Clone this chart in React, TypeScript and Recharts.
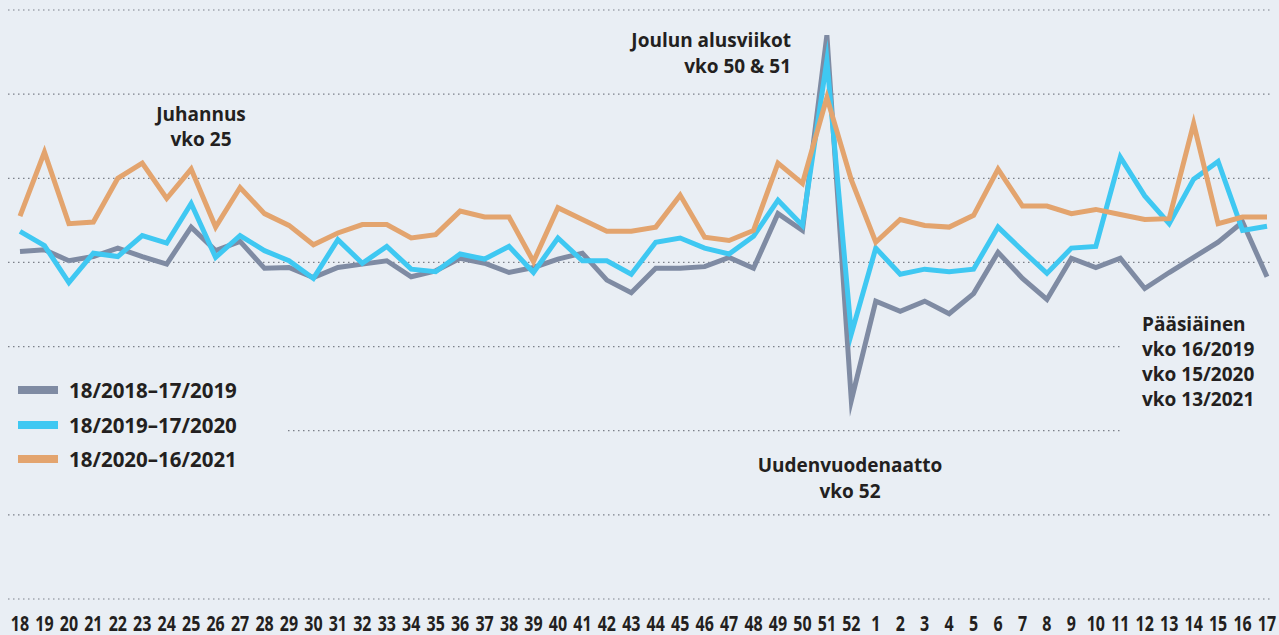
import { CartesianGrid, Legend, Line, LineChart, XAxis, YAxis } from "recharts";

// viikot 18/YYYY - 17/YYYY+1
const weeks = [
  "18", "19", "20", "21", "22", "23", "24", "25", "26", "27", "28", "29", "30",
  "31", "32", "33", "34", "35", "36", "37", "38", "39", "40", "41", "42", "43",
  "44", "45", "46", "47", "48", "49", "50", "51", "52", "1", "2", "3", "4", "5",
  "6", "7", "8", "9", "10", "11", "12", "13", "14", "15", "16", "17",
];

const y2018 = [
  413, 415, 402, 407, 417, 407, 398, 442, 414, 425, 393, 394, 382,
  394, 398, 402, 383, 390, 405, 399, 388, 394, 404, 411, 379, 364,
  393, 393, 395, 406, 393, 458, 438, 670, 236, 354, 342, 354, 339, 363,
  412, 381, 356, 405, 394, 405, 369, 388, 406, 424, 448, 383,
];

const y2019 = [
  437, 420, 376, 411, 407, 432, 423, 470, 406, 432, 414, 402, 381,
  427, 399, 419, 392, 389, 410, 404, 419, 388, 429, 402, 402, 386,
  424, 429, 417, 410, 431, 474, 444, 640, 315, 417, 386, 392, 389, 392,
  442, 414, 387, 417, 419, 525, 479, 446, 499, 520, 438, 443,
];

const y2020 = [
  455, 531, 446, 448, 500, 518, 476, 511, 442, 489, 458, 444, 421,
  435, 445, 445, 429, 433, 461, 454, 454, 401, 465, 451, 437, 437,
  442, 480, 430, 426, 438, 518, 494, 596, 498, 424, 451, 444, 442, 456,
  511, 467, 467, 458, 463, 457, 451, 452, 565, 446, 454, 454,
];

const yTicks = [0, 100, 200, 300, 400, 500, 600, 700];

const data = weeks.map((w, i) => ({
  week: w,
  a: y2018[i],
  b: y2019[i],
  c: y2020[i],
}));

const BG = "#e9eef4";
const TEXT = "#231f20";
const FONT = "'Open Sans', 'Noto Sans', sans-serif";

const series = [
  { key: "a", name: "18/2018–17/2019", color: "#7f8ba3" },
  { key: "b", name: "18/2019–17/2020", color: "#3fc8f2" },
  { key: "c", name: "18/2020–16/2021", color: "#e3a46e" },
];

// kapea lihavoitu fontti: skaalataan vaakasuunnassa
function WeekTick(props: any) {
  const { x, y, payload } = props;
  return (
    <g transform={`translate(${x},${y})`}>
      <text
        transform="scale(0.78,1)"
        textAnchor="middle"
        dy="0.71em"
        fill={TEXT}
        fontFamily={FONT}
        fontWeight={700}
        fontSize={20.5}
      >
        {payload.value}
      </text>
    </g>
  );
}

function LegendBox() {
  return (
    <div
      style={{
        background: BG,
        width: 285,
        height: 120,
        paddingTop: 13,
        boxSizing: "border-box",
      }}
    >
      {series.map((s) => (
        <div
          key={s.key}
          style={{ display: "flex", alignItems: "center", height: 34.5 }}
        >
          <span
            style={{
              display: "inline-block",
              marginLeft: 18,
              width: 40,
              height: 8,
              background: s.color,
            }}
          />
          <span
            style={{
              marginLeft: 11,
              fontFamily: FONT,
              fontWeight: 700,
              fontSize: 20.5,
              color: TEXT,
            }}
          >
            {s.name}
          </span>
        </div>
      ))}
    </div>
  );
}

const note: React.CSSProperties = {
  position: "absolute",
  fontFamily: FONT,
  fontWeight: 700,
  fontSize: 19,
  color: TEXT,
  whiteSpace: "nowrap",
};

export default function App() {
  return (
    <div
      style={{
        position: "absolute",
        left: 0,
        top: 0,
        width: 1279,
        height: 635,
        background: BG,
        overflow: "hidden",
      }}
    >
      <LineChart
        width={1279}
        height={635}
        data={data}
        margin={{ top: 10, right: 9, bottom: 0, left: 8 }}
      >
        <CartesianGrid
          vertical={false}
          stroke="#7c8089"
          strokeDasharray="1.5 3.5"
          strokeWidth={1.2}
        />
        <XAxis
          dataKey="week"
          scale="point"
          padding={{ left: 12, right: 3 }}
          interval={0}
          axisLine={false}
          tickLine={false}
          tickSize={0}
          tickMargin={17}
          height={36}
          tick={<WeekTick />}
        />
        <YAxis hide domain={[0, 700]} ticks={yTicks} />
        {series.map((s) => (
          <Line
            key={s.key}
            dataKey={s.key}
            name={s.name}
            stroke={s.color}
            strokeWidth={5}
            strokeMiterlimit={10}
            dot={false}
            activeDot={false}
            isAnimationActive={false}
          />
        ))}
        <Legend
          layout="horizontal"
          align="center"
          verticalAlign="middle"
          wrapperStyle={{ left: 0, top: 360, width: 285, height: 120 }}
          content={() => <LegendBox />}
        />
      </LineChart>

      <div style={{ ...note, left: 101, top: 102, width: 200, textAlign: "center", lineHeight: "25px" }}>
        Juhannus
        <br />
        vko 25
      </div>
      <div style={{ ...note, left: 591, top: 27, width: 200, textAlign: "right", lineHeight: "26px" }}>
        Joulun alusviikot
        <br />
        vko 50 &amp; 51
      </div>
      <div style={{ ...note, left: 750, top: 452, width: 200, textAlign: "center", lineHeight: "26px" }}>
        Uudenvuodenaatto
        <br />
        vko 52
      </div>
      <div
        style={{
          ...note,
          left: 1122,
          top: 300,
          width: 157,
          height: 140,
          paddingLeft: 20,
          paddingTop: 12,
          boxSizing: "border-box",
          background: BG,
          lineHeight: "25px",
        }}
      >
        Pääsiäinen
        <br />
        vko 16/2019
        <br />
        vko 15/2020
        <br />
        vko 13/2021
      </div>
    </div>
  );
}
